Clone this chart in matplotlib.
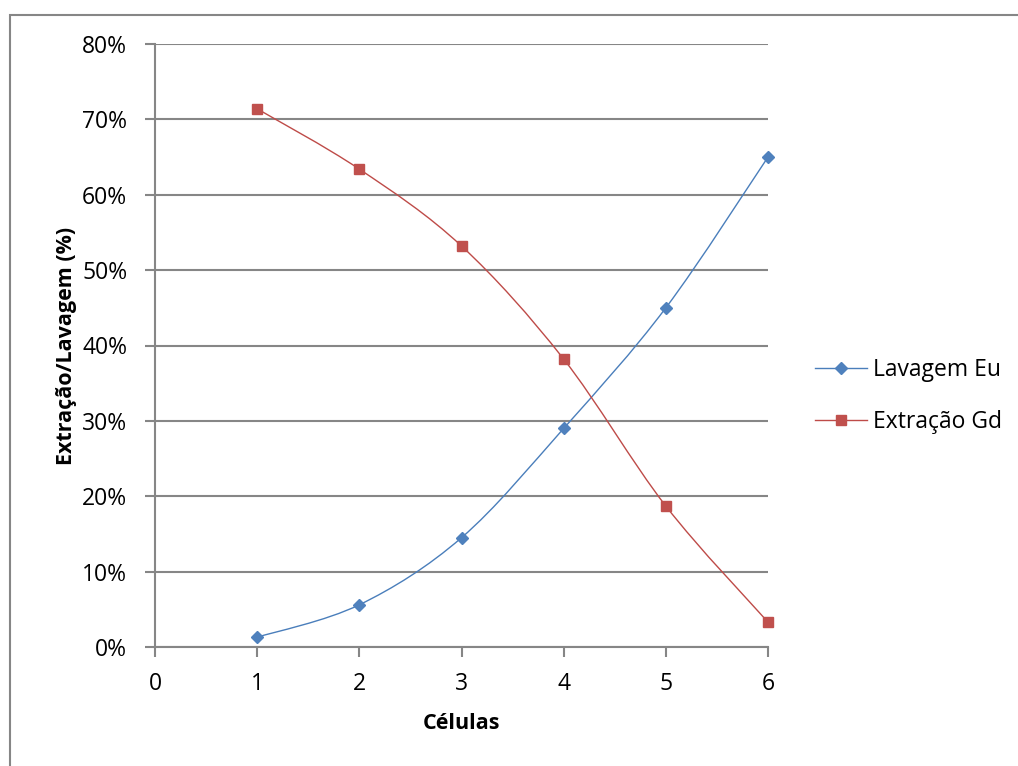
import matplotlib
matplotlib.use("Agg")
import matplotlib.pyplot as plt
from matplotlib.path import Path
from matplotlib.patches import PathPatch, Rectangle
from matplotlib.lines import Line2D
from matplotlib.ticker import FuncFormatter, MultipleLocator

plt.rcParams['font.family'] = ['Open Sans', 'DejaVu Sans']

# Data
celulas = [1, 2, 3, 4, 5, 6]
lavagem_eu = [0.013, 0.056, 0.145, 0.290, 0.450, 0.650]
extracao_gd = [0.714, 0.634, 0.532, 0.382, 0.187, 0.033]
series_names = ["Lavagem Eu", "Extração Gd"]
x_label = "Células"
y_label = "Extração/Lavagem (%)"

blue_line, blue_mark = "#4A7EBB", "#4F81BD"
red_line, red_mark = "#BE4B48", "#C0504D"
grid_col = "#868686"


def smooth_path(xs, ys):
    """Bezier curve through the points (Catmull-Rom style control points)."""
    pts = list(zip(xs, ys))
    n = len(pts)
    verts = [pts[0]]
    codes = [Path.MOVETO]
    for i in range(n - 1):
        p0 = pts[i - 1] if i > 0 else pts[i]
        p1 = pts[i]
        p2 = pts[i + 1]
        p3 = pts[i + 2] if i + 2 < n else pts[i + 1]
        c1 = (p1[0] + (p2[0] - p0[0]) / 6, p1[1] + (p2[1] - p0[1]) / 6)
        c2 = (p2[0] - (p3[0] - p1[0]) / 6, p2[1] - (p3[1] - p1[1]) / 6)
        verts += [c1, c2, p2]
        codes += [Path.CURVE4] * 3
    return Path(verts, codes)


fig = plt.figure(figsize=(10.18, 7.66), dpi=100)
W, H = 1018, 766

# chart frame
fig.patches.append(Rectangle((9.5 / W, -0.1), 1.2, (766 - 14.5) / H + 0.1,
                             transform=fig.transFigure, fill=False,
                             edgecolor=grid_col, linewidth=1.5))

ax = fig.add_axes([155 / W, (766 - 647) / H, 613 / W, 603 / H])
ax.set_xlim(0, 6)
ax.set_ylim(0, 0.8)
ax.yaxis.set_major_locator(MultipleLocator(0.1))
ax.xaxis.set_major_locator(MultipleLocator(1))
ax.yaxis.set_major_formatter(FuncFormatter(lambda v, p: f"{v*100:.0f}%"))
ax.grid(axis='y', color=grid_col, linewidth=1.5)
ax.set_axisbelow(True)
for s in ['top', 'right']:
    ax.spines[s].set_visible(False)
for s in ['left', 'bottom']:
    ax.spines[s].set_color(grid_col)
    ax.spines[s].set_linewidth(1.5)
ax.tick_params(axis='both', colors=grid_col, length=7, width=1.5,
               labelcolor='black', labelsize=16.5)
ax.tick_params(axis='y', pad=13)
ax.tick_params(axis='x', pad=11)

for ys, lc, mc, mk, ms in [(lavagem_eu, blue_line, blue_mark, 'D', 6.5),
                           (extracao_gd, red_line, red_mark, 's', 7.5)]:
    ax.add_patch(PathPatch(smooth_path(celulas, ys), fill=False,
                           edgecolor=lc, linewidth=1.0, zorder=3))
    ax.plot(celulas, ys, linestyle='none', marker=mk, markersize=ms,
            color=mc, markeredgecolor=mc, zorder=4, clip_on=False)

ax.set_xlabel(x_label, fontsize=15.5, fontweight='bold', labelpad=12)
ax.set_ylabel(y_label, fontsize=15.5, fontweight='bold', labelpad=4)

handles = [Line2D([], [], color=blue_line, lw=1.0, marker='D', markersize=6.5,
                  markerfacecolor=blue_mark, markeredgecolor=blue_mark),
           Line2D([], [], color=red_line, lw=1.0, marker='s', markersize=7.5,
                  markerfacecolor=red_mark, markeredgecolor=red_mark)]
fig.legend(handles, series_names, loc='center left',
           bbox_to_anchor=(794 / W, 1 - 396 / H), frameon=False,
           fontsize=16.5, handlelength=2.3, handletextpad=0.25,
           labelspacing=1.2)

fig.savefig("out.png", dpi=100)
